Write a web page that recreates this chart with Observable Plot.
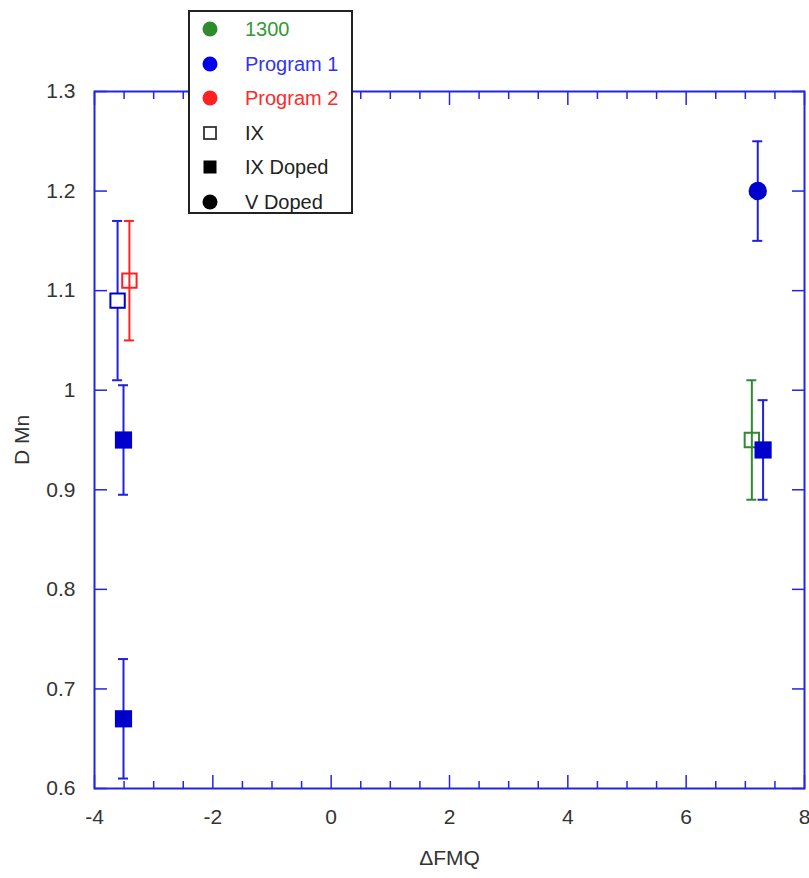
<!DOCTYPE html>
<html><head><meta charset="utf-8">
<script src="https://cdn.jsdelivr.net/npm/d3@7"></script>
<script src="https://cdn.jsdelivr.net/npm/@observablehq/plot@0.6"></script>
<style>
body{margin:0;background:#fff;font-family:"Liberation Sans",Arial,sans-serif;}
#wrap{position:relative;width:809px;height:878px;}
#legend{position:absolute;left:188px;top:10px;width:161px;height:200px;border:2px solid #222;background:#fff;}
#legend .row{position:absolute;left:0;height:34px;width:160px;display:flex;align-items:center;font-size:20px;}
#legend .row svg{position:absolute;left:11px;top:8px;}
#legend .row span{position:absolute;left:55px;line-height:34px;}
</style></head>
<body><div id="wrap"><div id="chart"></div><div id="legend"></div></div>
<script>
// categories
const programNames = ["1300", "Program 1", "Program 2"];
const programColors = ["#2e8b2e", "#0000cc", "#ff2020"];
const programTextColors = ["#339933", "#3333ee", "#ff2a2a"];
const sampleNames = ["IX", "IX Doped", "V Doped"];

// points (ΔFMQ, D Mn, error bar low, error bar high)
const ptProgram = ["Program 1", "Program 2", "1300", "Program 1", "Program 1", "Program 1", "Program 1"];
const ptSample  = ["IX", "IX", "IX", "IX Doped", "IX Doped", "IX Doped", "V Doped"];
const ptX    = [-3.61, -3.41, 7.11, -3.51, -3.51, 7.30, 7.21];
const ptY    = [1.09, 1.11, 0.95, 0.95, 0.67, 0.94, 1.20];
const ptLow  = [1.01, 1.05, 0.89, 0.895, 0.61, 0.89, 1.15];
const ptHigh = [1.17, 1.17, 1.01, 1.005, 0.73, 0.99, 1.25];

// ticks
const xMajor = [-4, -2, 0, 2, 4, 6, 8];
const xTickLabels = ["-4", "-2", "0", "2", "4", "6", "8"];
const xMinor = [-3.5, -3, -2.5, -1.5, -1, -0.5, 0.5, 1, 1.5, 2.5, 3, 3.5, 4.5, 5, 5.5, 6.5, 7, 7.5];
const yTicks = [0.6, 0.7, 0.8, 0.9, 1.0, 1.1, 1.2, 1.3];
const yTickLabels = ["0.6", "0.7", "0.8", "0.9", "1", "1.1", "1.2", "1.3"];

const colorOf = p => programColors[programNames.indexOf(p)];
const rows = ptX.map((x, i) => ({x, y: ptY[i], lo: ptLow[i], hi: ptHigh[i], program: ptProgram[i], sample: ptSample[i]}));
const frameBlue = "#2424e8";
const barColor = d => d.program === "Program 1" ? "#2020e0" : colorOf(d.program);

const chart = Plot.plot({
  width: 809, height: 878,
  marginLeft: 94, marginRight: 5, marginTop: 91, marginBottom: 90,
  x: {domain: [-4, 8]},
  y: {domain: [0.6, 1.3]},
  color: {type: "identity"},
  style: {fontFamily: "Liberation Sans, Arial, sans-serif", fontSize: "21px", color: "#333", background: "white"},
  marks: [
    Plot.axisX({ticks: xMinor, anchor: "bottom", tickSize: -7, text: null, label: null, stroke: frameBlue, strokeWidth: 1.5}),
    Plot.axisX({ticks: xMinor, anchor: "top", tickSize: -7, text: null, label: null, stroke: frameBlue, strokeWidth: 1.5}),
    Plot.axisX({ticks: xMajor, anchor: "bottom", tickSize: -13, tickPadding: 34, stroke: frameBlue, strokeWidth: 1.5, fill: "#333",
      tickFormat: d => xTickLabels[xMajor.indexOf(d)], label: "ΔFMQ", labelArrow: "none", labelAnchor: "center", labelOffset: 76}),
    Plot.axisX({ticks: xMajor, anchor: "top", tickSize: -13, text: null, label: null, stroke: frameBlue, strokeWidth: 1.5}),
    Plot.axisY({ticks: yTicks, anchor: "left", tickSize: -13, tickPadding: 32, stroke: frameBlue, strokeWidth: 1.5, fill: "#333",
      tickFormat: d => yTickLabels[yTicks.indexOf(d)], label: "D Mn", labelArrow: "none", labelAnchor: "center", labelOffset: 80}),
    Plot.axisY({ticks: yTicks, anchor: "right", tickSize: -13, text: null, label: null, stroke: frameBlue, strokeWidth: 1.5}),
    Plot.frame({stroke: frameBlue, strokeWidth: 2}),
    Plot.ruleX(rows, {x: "x", y1: "lo", y2: "hi", stroke: barColor, strokeWidth: 2}),
    Plot.ruleY(rows, {y: "lo", x1: "x", x2: "x", insetLeft: -5, insetRight: -5, stroke: barColor, strokeWidth: 2}),
    Plot.ruleY(rows, {y: "hi", x1: "x", x2: "x", insetLeft: -5, insetRight: -5, stroke: barColor, strokeWidth: 2}),
    Plot.dot(rows.filter(d => d.sample === "IX"), {x: "x", y: "y", symbol: "square", r: 8.1,
      fill: d => d.program === "Program 1" ? "white" : "none", stroke: d => colorOf(d.program), strokeWidth: 2}),
    Plot.dot(rows.filter(d => d.sample === "IX Doped"), {x: "x", y: "y", symbol: "square", r: 9.7,
      fill: d => colorOf(d.program), stroke: "none"}),
    Plot.dot(rows.filter(d => d.sample === "V Doped"), {x: "x", y: "y", symbol: "circle", r: 9.2,
      fill: d => colorOf(d.program), stroke: "none"})
  ]
});
document.getElementById("chart").appendChild(chart);

// legend
const legendItems = [
  ...programNames.map((n, i) => ({label: n, textColor: programTextColors[i], marker: "circle", color: programColors[i] === "#0000cc" ? "#0000ee" : programColors[i]})),
  ...sampleNames.map(n => ({label: n, textColor: "#222", marker: n === "IX" ? "open" : n === "IX Doped" ? "square" : "circle", color: "#000"}))
];
const legend = document.getElementById("legend");
legendItems.forEach((it, i) => {
  const row = document.createElement("div");
  row.className = "row";
  row.style.top = (i * 34.5) + "px";
  let shape;
  if (it.marker === "circle") shape = `<circle cx="9" cy="9" r="7.5" fill="${it.color}"/>`;
  else if (it.marker === "open") shape = `<rect x="3" y="3" width="12" height="12" fill="white" stroke="#333" stroke-width="1.8"/>`;
  else shape = `<rect x="2.5" y="2.5" width="13" height="13" fill="#000"/>`;
  row.innerHTML = `<svg width="18" height="18">${shape}</svg><span style="color:${it.textColor}">${it.label}</span>`;
  legend.appendChild(row);
});
</script>
</body></html>
